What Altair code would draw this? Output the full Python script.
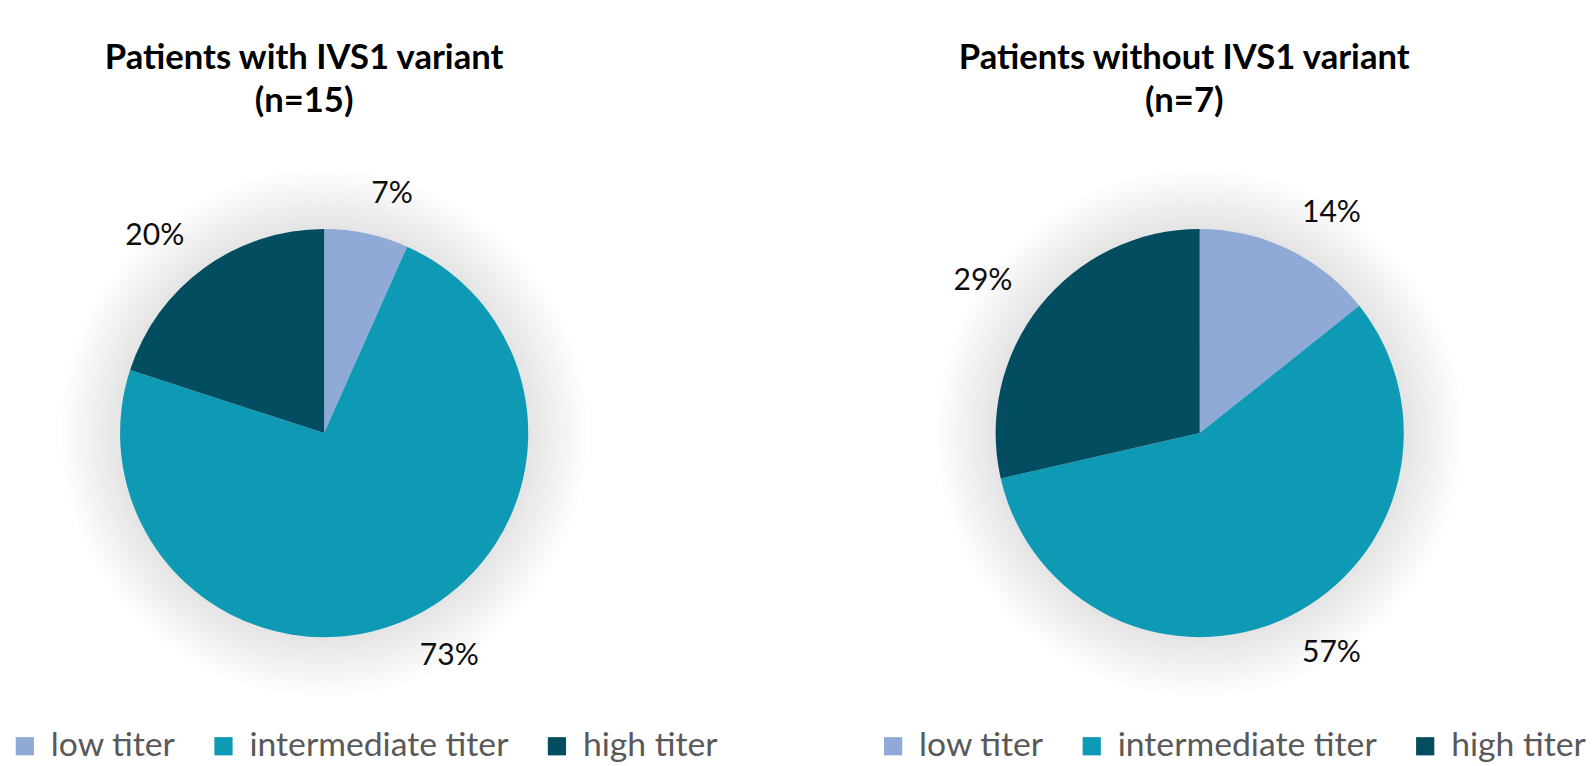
import altair as alt
import pandas as pd

# ---- data ----
categories = ["low titer", "intermediate titer", "high titer"]
with_counts = [1, 11, 3]            # n = 15
with_labels = ["7%", "73%", "20%"]
without_counts = [1, 4, 2]          # n = 7
without_labels = ["14%", "57%", "29%"]
colors = ["#8FAAD6", "#0E9AB4", "#034D61"]
title_with = ["Patients with IVS1 variant", "(n=15)"]
title_without = ["Patients without IVS1 variant", "(n=7)"]

FONT = "Lato"
R = 224          # pie radius in px
W, H = 694, 596  # panel size


def panel(counts, labels, title, legend_x, title_dx):
    df = pd.DataFrame({
        "category": categories,
        "count": counts,
        "label": labels,
        "order": list(range(len(categories))),
    })
    base = alt.Chart(df)

    color = alt.Color(
        "category:N",
        scale=alt.Scale(domain=categories, range=colors),
        legend=alt.Legend(
            orient="none", legendX=legend_x, legendY=623,
            direction="horizontal", title=None,
            symbolType="square", symbolSize=400, symbolStrokeWidth=0,
            symbolOpacity=1,
            labelFont=FONT, labelFontSize=37, labelColor="#595959",
            labelOffset=10, columnPadding=34, labelLimit=0,
        ),
    )

    shadows = [
        base.mark_arc(radius=R + 5 * k, color="#000000", opacity=0.009)
        .encode(theta=alt.Theta("sum(count):Q"))
        for k in range(1, 14)
    ]

    pie = base.mark_arc(radius=R).encode(
        theta=alt.Theta("count:Q", stack=True),
        color=color,
        order=alt.Order("order:Q"),
    )

    lab = (
        base.transform_joinaggregate(total="sum(count)")
        .transform_window(cum="sum(count)",
                          sort=[alt.SortField("order", order="ascending")],
                          frame=[None, 0])
        .transform_calculate(mid="(datum.cum - datum.count / 2) / datum.total * 2 * PI")
    )
    txt_enc = dict(theta=alt.Theta("mid:Q", scale=None, stack=False), text="label:N")
    right = lab.transform_filter("sin(datum.mid) >= 0").mark_text(
        radius=268, align="left", dx=-4, baseline="middle",
        font=FONT, fontSize=33, color="#0d0d0d",
    ).encode(**txt_enc)
    left = lab.transform_filter("sin(datum.mid) < 0").mark_text(
        radius=268, align="right", dx=4, baseline="middle",
        font=FONT, fontSize=33, color="#0d0d0d",
    ).encode(**txt_enc)

    return (
        alt.layer(*shadows, pie, right, left)
        .resolve_scale(theta="independent")
        .properties(
            width=W, height=H,
            title=alt.TitleParams(
                text=title, font=FONT, fontSize=38, fontWeight="bold",
                color="#000000", anchor="middle", frame="group",
                offset=8, lineHeight=48, dx=title_dx, baseline="bottom",
            ),
        )
    )


chart = (
    alt.hconcat(
        panel(with_counts, with_labels, title_with, 0, -22),
        panel(without_counts, without_labels, title_without, -8, -17),
        spacing=174,
    )
    .resolve_scale(color="independent", theta="independent")
    .properties(padding={"top": -2, "left": 0, "right": 0, "bottom": 0})
    .configure_view(strokeOpacity=0)
)

chart.save("out.html", embed_options={"renderer": "svg", "actions": False})
